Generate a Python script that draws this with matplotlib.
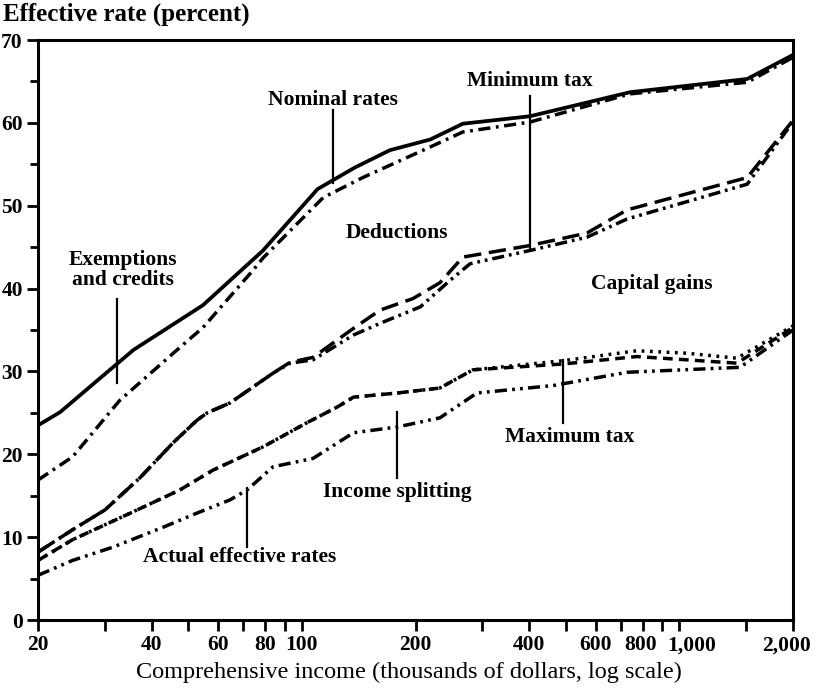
import matplotlib
matplotlib.use('Agg')
import matplotlib.pyplot as plt
from matplotlib.ticker import FixedLocator, NullFormatter, NullLocator
from matplotlib.transforms import ScaledTranslation

plt.rcParams['font.family'] = ['Liberation Serif', 'DejaVu Serif']

# comprehensive income, thousands of dollars (log scale) / effective rate, percent
nominal_x = [20, 22.9, 28.7, 35.8, 54.7, 78.9, 110, 138, 171, 219, 267, 402, 740, 1513, 2000]
nominal_y = [23.5, 25.1, 28.9, 32.6, 38.0, 44.6, 52.0, 54.6, 56.7, 58.0, 59.9, 60.8, 63.7, 65.3, 68.2]

exempt_x = [20, 24.7, 32.9, 46.7, 54.7, 74.2, 78.9, 114, 145, 219, 267, 402, 740, 1513, 2000]
exempt_y = [16.9, 19.7, 26.5, 32.6, 35.3, 42.2, 43.7, 51.0, 53.4, 57.1, 58.9, 60.1, 63.5, 64.9, 67.9]

deduct_x = [20, 24.7, 30.1, 37.3, 45.6, 52.7, 56.1, 64.5, 83.9, 93, 107, 137, 161, 197, 232, 267, 402, 569, 727, 1513, 2000]
deduct_y = [8.2, 10.9, 13.3, 17.2, 21.4, 24.1, 25.0, 26.2, 29.8, 31.1, 31.7, 35.2, 37.4, 38.8, 40.7, 43.8, 45.2, 46.7, 49.5, 53.4, 60.3]

capgain_x = [20, 24.7, 30.1, 37.3, 45.6, 52.7, 56.1, 64.5, 83.9, 93, 107, 137, 161, 206, 247, 279, 402, 569, 727, 1513, 2000]
capgain_y = [8.2, 10.9, 13.3, 17.2, 21.4, 24.1, 25.0, 26.2, 29.8, 31.0, 31.4, 34.4, 35.8, 37.8, 41.0, 43.0, 44.6, 46.2, 48.4, 52.6, 60.1]

maxtax_x = [20, 24.7, 35.1, 47.5, 58.2, 78.9, 103, 124, 137, 179, 232, 284, 492, 772, 1048, 1421, 2000]
maxtax_y = [7.2, 9.7, 12.9, 15.7, 18.1, 20.9, 23.8, 25.7, 26.9, 27.4, 28.0, 30.2, 30.9, 31.8, 31.4, 31.0, 35.3]

mintax_x = [20, 24.7, 35.1, 47.5, 58.2, 78.9, 103, 124, 137, 179, 232, 284, 492, 772, 1048, 1421, 2000]
mintax_y = [7.2, 9.7, 12.9, 15.7, 18.1, 20.9, 23.8, 25.7, 26.9, 27.4, 28.0, 30.2, 31.3, 32.5, 32.2, 31.6, 35.5]

actual_x = [20, 24.7, 31.6, 42.9, 52.7, 64.5, 71.6, 83.9, 107, 137, 179, 232, 291, 463, 727, 1448, 2000]
actual_y = [5.4, 7.2, 8.8, 11.2, 12.9, 14.5, 15.7, 18.5, 19.5, 22.6, 23.3, 24.4, 27.4, 28.3, 29.9, 30.5, 35.0]

xticks = [20, 30, 40, 50, 60, 70, 80, 90, 100, 200, 300, 400, 500, 600, 700, 800, 900, 1000, 1500, 2000]
xlabels = ['20', '', '40', '', '60', '', '80', '', '100', '200', '', '400', '', '600', '', '800', '', '1,000', '', '2,000']

# text, x, y, pointer (x, y0, y1) or None
labels = [
    ('Nominal rates', 121, 62.8, (121, 61.5, 52.8)),
    ('Minimum tax', 402, 65.1, (402, 63.3, 44.7)),
    ('Deductions', 179, 46.7, None),
    ('Exemptions\nand credits', 33.6, 42.3, (32.4, 38.7, 28.6)),
    ('Capital gains', 846, 40.5, None),
    ('Maximum tax', 513, 22.1, (492, 31.4, 23.8)),
    ('Income splitting', 179, 15.4, (179, 25.1, 17.1)),
    ('Actual effective rates', 68.6, 7.6, (71.6, 15.9, 8.8)),
]

fig = plt.figure(figsize=(8.18, 6.90), dpi=100)
ax = fig.add_axes([0.0465, 0.1014, 0.9229, 0.8406])

lw = 2.5
ax.plot(nominal_x, nominal_y, color='black', lw=2.7, solid_capstyle='butt')
ax.plot(exempt_x, exempt_y, color='black', lw=lw, linestyle=(0, (3.5, 1.6, 0.8, 1.6)))
ax.plot(deduct_x, deduct_y, color='black', lw=lw, linestyle=(0, (5.0, 2.2)))
ax.plot(capgain_x, capgain_y, color='black', lw=lw, linestyle=(0, (3.5, 1.4, 0.8, 1.4, 0.8, 1.4)))
ax.plot(maxtax_x, maxtax_y, color='black', lw=lw, linestyle=(0, (2.8, 1.8)))
ax.plot(mintax_x, mintax_y, color='black', lw=lw, linestyle=(0, (0.8, 1.6)))
ax.plot(actual_x, actual_y, color='black', lw=lw, linestyle=(0, (3.5, 1.5, 0.8, 1.5, 0.8, 1.5)))

for text, tx, ty, ptr in labels:
    ax.text(tx, ty, text, ha='center', va='center', fontsize=15.5, fontweight='bold',
            linespacing=1.0)
    if ptr is not None:
        ax.plot([ptr[0], ptr[0]], [ptr[1], ptr[2]], color='black', lw=1.6)

ax.set_xscale('log')
ax.set_xlim(20, 2000)
ax.set_ylim(0, 70)
ax.xaxis.set_major_locator(FixedLocator(xticks))
ax.set_xticklabels(xlabels)
ax.xaxis.set_minor_locator(NullLocator())
ax.xaxis.set_minor_formatter(NullFormatter())
ax.set_yticks(range(0, 71, 10))
ax.set_yticks(range(5, 70, 10), minor=True)

for s in ax.spines.values():
    s.set_linewidth(2.2)
ax.tick_params(axis='both', which='major', direction='out', length=8, width=2,
               labelsize=15.5, pad=3)
ax.tick_params(axis='y', which='minor', direction='out', length=6, width=2)
for t in ax.get_xticklabels() + ax.get_yticklabels():
    t.set_fontweight('bold')

# nudge crowded labels apart, as in the original
shifts = {'1,000': 12, '800': -2, '2,000': -6}
for t in ax.get_xticklabels():
    if t.get_text() in shifts:
        t.set_transform(t.get_transform() + ScaledTranslation(shifts[t.get_text()] / 100, 0, fig.dpi_scale_trans))

fig.text(0.004, 0.98, 'Effective rate (percent)', ha='left', va='center',
         fontsize=18, fontweight='bold')
fig.text(0.50, 0.026, 'Comprehensive income (thousands of dollars, log scale)',
         ha='center', va='center', fontsize=17.5)

fig.savefig('out.png', dpi=100)
